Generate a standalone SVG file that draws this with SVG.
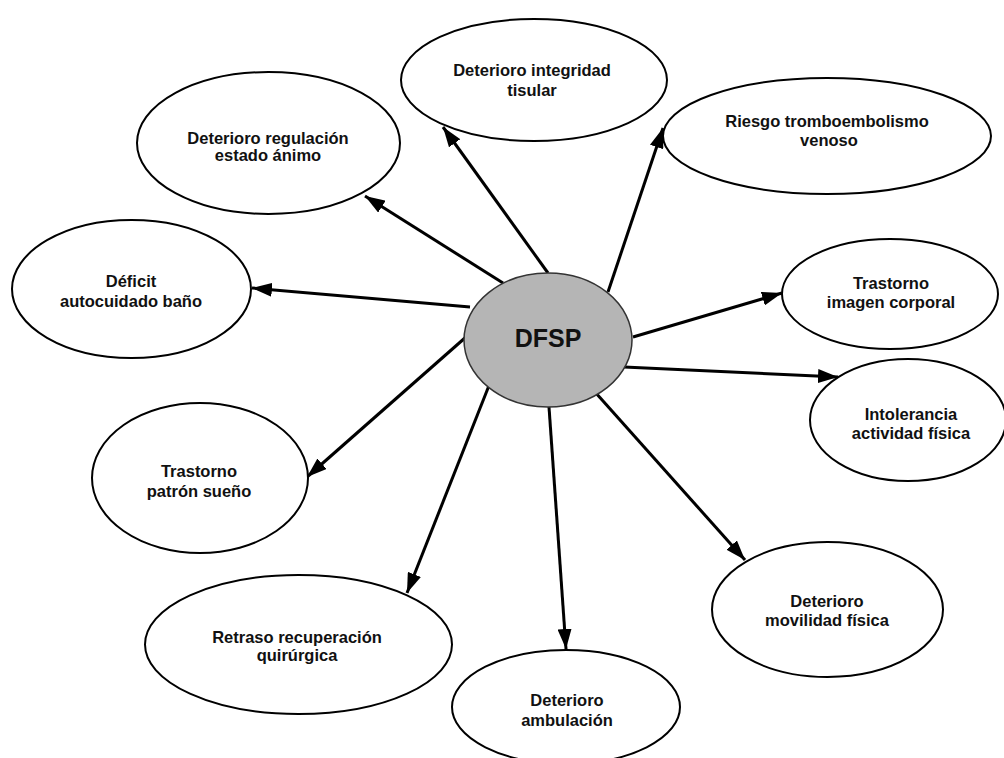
<svg xmlns="http://www.w3.org/2000/svg" width="1004" height="758" viewBox="0 0 1004 758">
<style>
.n ellipse{fill:#fff;stroke:#000;stroke-width:2}
.n text{font-family:"Liberation Sans",Arial,sans-serif;font-weight:bold;font-size:16.5px;fill:#111;text-anchor:middle}
#center ellipse{fill:#b5b5b5;stroke:#333;stroke-width:1.5}
#center text{font-size:25px}
.c line{stroke:#000;stroke-width:3;marker-end:url(#ah)}
</style>
<defs>
<marker id="ah" markerUnits="userSpaceOnUse" markerWidth="20" markerHeight="14" refX="20" refY="7" orient="auto" viewBox="0 0 20 14">
<path d="M0,0 L20,7 L0,14 z" fill="#000"/>
</marker>
</defs>
<rect width="1004" height="758" fill="#fff"/>
<g class="c" id="connectors">
<line x1="548" y1="273" x2="443" y2="127"/>
<line x1="503" y1="283" x2="365" y2="196"/>
<line x1="608" y1="292" x2="663" y2="128"/>
<line x1="470" y1="307" x2="252" y2="288"/>
<line x1="633" y1="337" x2="782" y2="293"/>
<line x1="624" y1="367" x2="838" y2="377"/>
<line x1="466" y1="337" x2="307" y2="477"/>
<line x1="490" y1="383" x2="407" y2="593"/>
<line x1="549" y1="407" x2="566" y2="649"/>
<line x1="595" y1="392" x2="745" y2="560"/>
</g>
<g class="n" id="center"><ellipse cx="548" cy="340" rx="84" ry="67"/><text x="548" y="347">DFSP</text></g>
<g class="n" id="integridad"><ellipse cx="534" cy="80" rx="133" ry="61"/><text x="532" y="76">Deterioro integridad</text><text x="532" y="96">tisular</text></g>
<g class="n" id="regulacion"><ellipse cx="268.5" cy="143" rx="131.5" ry="71"/><text x="268" y="144">Deterioro regulación</text><text x="268" y="161">estado ánimo</text></g>
<g class="n" id="riesgo"><ellipse cx="827" cy="136" rx="164" ry="58"/><text x="827" y="127">Riesgo tromboembolismo</text><text x="829" y="146">venoso</text></g>
<g class="n" id="deficit"><ellipse cx="131.5" cy="289" rx="119.5" ry="69"/><text x="131" y="287">Déficit</text><text x="131" y="307">autocuidado baño</text></g>
<g class="n" id="imagen"><ellipse cx="890" cy="294" rx="108" ry="55"/><text x="891" y="289">Trastorno</text><text x="891" y="308">imagen corporal</text></g>
<g class="n" id="intolerancia"><ellipse cx="908" cy="420" rx="98" ry="61"/><text x="911" y="420">Intolerancia</text><text x="911" y="439">actividad física</text></g>
<g class="n" id="sueno"><ellipse cx="200" cy="478" rx="108" ry="75"/><text x="199" y="477">Trastorno</text><text x="199" y="497">patrón sueño</text></g>
<g class="n" id="retraso"><ellipse cx="298.5" cy="644.5" rx="153.5" ry="69.5"/><text x="297" y="643">Retraso recuperación</text><text x="297" y="661">quirúrgica</text></g>
<g class="n" id="ambulacion"><ellipse cx="566" cy="707" rx="114" ry="57"/><text x="567" y="706">Deterioro</text><text x="567" y="726">ambulación</text></g>
<g class="n" id="movilidad"><ellipse cx="827.5" cy="609.5" rx="115.5" ry="67.5"/><text x="827" y="607">Deterioro</text><text x="827" y="626">movilidad física</text></g>
</svg>
